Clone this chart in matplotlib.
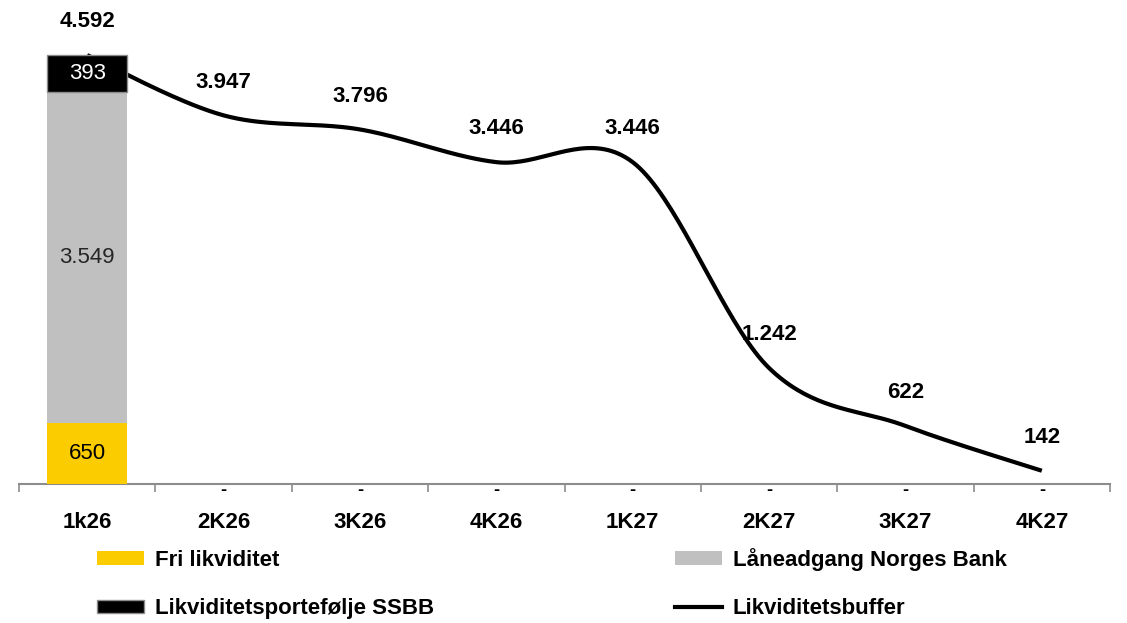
import numpy as np
import matplotlib
matplotlib.use("Agg")
import matplotlib.pyplot as plt
from matplotlib.patches import Patch
from matplotlib.lines import Line2D

plt.rcParams['font.family'] = ['Liberation Sans', 'DejaVu Sans']

categories = ['1k26', '2K26', '3K26', '4K26', '1K27', '2K27', '3K27', '4K27']
fri_likviditet = [650, 0, 0, 0, 0, 0, 0, 0]
laaneadgang = [3549, 0, 0, 0, 0, 0, 0, 0]
ssbb_portefolje = [393, 0, 0, 0, 0, 0, 0, 0]
likviditetsbuffer = [4592, 3947, 3796, 3446, 3446, 1242, 622, 142]

YELLOW = '#FBCD00'
GREY = '#C0C0C0'
BLACK = '#000000'
AXIS_GREY = '#8C8C8C'


def fmt(v):
    return f"{v:,.0f}".replace(',', '.')


def catmull_rom(xs, ys, n=40):
    """Smooth curve through the points (Bezier with 1/6 neighbour tangents)."""
    pts = np.column_stack([xs, ys]).astype(float)
    out = [pts[0]]
    for i in range(len(pts) - 1):
        p0 = pts[i - 1] if i > 0 else pts[i]
        p1 = pts[i]
        p2 = pts[i + 1]
        p3 = pts[i + 2] if i + 2 < len(pts) else pts[i + 1]
        c1 = p1 + (p2 - p0) / 6.0
        c2 = p2 - (p3 - p1) / 6.0
        t = np.linspace(0, 1, n)[1:, None]
        seg = ((1 - t) ** 3) * p1 + 3 * ((1 - t) ** 2) * t * c1 + 3 * (1 - t) * t ** 2 * c2 + t ** 3 * p2
        out.extend(seg)
    out = np.array(out)
    return out[:, 0], out[:, 1]


fig = plt.figure(figsize=(11.27, 6.23), dpi=100)
ax = fig.add_axes([19 / 1127, 1 - 484 / 623, 1091 / 1127, 467 / 623])

x = np.arange(len(categories))
width = 0.584

# smoothed buffer line (drawn beneath the bars)
sx, sy = catmull_rom(x, likviditetsbuffer)
ax.plot(sx, sy, color=BLACK, lw=3.0, zorder=2, solid_capstyle='butt')

ax.bar(x, fri_likviditet, width, color=YELLOW, zorder=3)
bottom2 = np.array(fri_likviditet)
ax.bar(x, laaneadgang, width, bottom=bottom2, color=GREY, zorder=3)
bottom3 = bottom2 + np.array(laaneadgang)
ax.bar(x, ssbb_portefolje, width, bottom=bottom3, color=BLACK,
       edgecolor=AXIS_GREY, linewidth=1.0, zorder=3)

# segment labels inside the stacked bar
for i in range(len(categories)):
    if fri_likviditet[i] > 0:
        ax.text(x[i], fri_likviditet[i] / 2, fmt(fri_likviditet[i]),
                ha='center', va='center', fontsize=16, color='black', zorder=5)
    if laaneadgang[i] > 0:
        ax.text(x[i], bottom2[i] + laaneadgang[i] / 2, fmt(laaneadgang[i]),
                ha='center', va='center', fontsize=16, color='#262626', zorder=5)
    if ssbb_portefolje[i] > 0:
        ax.text(x[i], bottom3[i] + ssbb_portefolje[i] / 2, fmt(ssbb_portefolje[i]),
                ha='center', va='center', fontsize=16, color='white', zorder=5)
    total = fri_likviditet[i] + laaneadgang[i] + ssbb_portefolje[i]
    if total == 0:
        ax.annotate('-', (x[i], 0), xytext=(0, -5), textcoords='offset points',
                    ha='center', va='center', fontsize=13, fontweight='bold',
                    annotation_clip=False)

# buffer value labels
for i, v in enumerate(likviditetsbuffer):
    ax.annotate(fmt(v), (x[i], v), xytext=(0, 24), textcoords='offset points',
                ha='center', va='center', fontsize=16, fontweight='bold',
                annotation_clip=False, zorder=6)

ax.set_xlim(-0.5, len(categories) - 0.5)
ax.set_ylim(0, 5000)
for s in ['top', 'right', 'left']:
    ax.spines[s].set_visible(False)
ax.spines['bottom'].set_color(AXIS_GREY)
ax.spines['bottom'].set_linewidth(1.5)
ax.set_yticks([])
ax.set_xticks(x)
ax.set_xticklabels(categories, fontsize=16, fontweight='bold')
ax.tick_params(axis='x', which='major', length=0, pad=20)
ax.set_xticks(np.arange(-0.5, len(categories), 1.0), minor=True)
ax.tick_params(axis='x', which='minor', length=6, width=1.2, color=AXIS_GREY, direction='out')

handles = [
    Patch(facecolor=YELLOW, edgecolor='none'),
    Patch(facecolor=BLACK, edgecolor=AXIS_GREY, linewidth=1.0),
    Patch(facecolor=GREY, edgecolor='none'),
    Line2D([0], [0], color=BLACK, lw=3.0),
]
labels = ['Fri likviditet', 'Likviditetsportefølje SSBB',
          'Låneadgang Norges Bank', 'Likviditetsbuffer']
fig.legend(handles, labels, ncol=2, loc='upper left',
           bbox_to_anchor=(97 / 1127, 1 - 548 / 623), frameon=False,
           prop={'size': 16, 'weight': 'bold'}, borderpad=0, borderaxespad=0,
           handlelength=2.1, handleheight=0.55, handletextpad=0.5,
           labelspacing=1.22, columnspacing=10.85)

fig.savefig('out.png', dpi=100)
